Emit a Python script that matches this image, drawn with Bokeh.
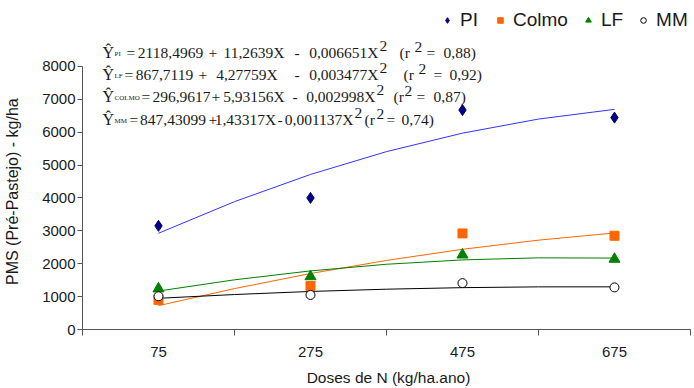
from bokeh.plotting import figure
from bokeh.models import FixedTicker, Range1d, Label, Legend, LegendItem
from bokeh.embed import file_html
from bokeh.resources import INLINE

# ---------------- data ----------------
doses = [75, 275, 475, 675]
y_ticks = [0, 1000, 2000, 3000, 4000, 5000, 6000, 7000, 8000]
dose_bounds = [-25, 175, 375, 575, 775]

pi_obs = [3150, 4000, 6670, 6440]
colmo_obs = [900, 1320, 2920, 2850]
lf_obs = [1240, 1610, 2270, 2140]
mm_obs = [1010, 1050, 1410, 1280]

curve_x = [75, 175, 275, 375, 475, 575, 675]
pi_fit = [2926, 3886, 4713, 5407, 5968, 6396, 6691]
colmo_fit = [725, 1243, 1701, 2100, 2438, 2716, 2935]
lf_fit = [1169, 1510, 1781, 1983, 2115, 2178, 2171]
mm_fit = [948, 1063, 1156, 1225, 1272, 1296, 1297]

series_names = ["PI", "Colmo", "LF", "MM"]

eq_subs = ["PI", "LF", "COLMO", "MM"]
eq_tokens = [
    ["=", "2118,4969", "+", "11,2639X", "-", "0,006651X", "2", "(r", "2", "=", "0,88)"],
    ["=", "867,7119", "+", "4,27759X", "-", "0,003477X", "2", "(r", "2", "=", "0,92)"],
    ["=", "296,9617", "+", "5,93156X", "-", "0,002998X", "2", "(r", "2", "=", "0,87)"],
    ["=", "847,43099", "+", "1,43317X", "-", "0,001137X", "2", "(r", "2", "=", "0,74)"],
]

# ---------------- layout (page px) ----------------
FL, FB = 82, 329          # frame left / bottom in page pixels
eq_base = [52, 74, 96, 119]
eq_token_x = [
    [126, 170, 208, 253.5, 294, 378, 379, 399, 414, 426, 443],
    [124, 164, 198, 246.5, 294, 378, 379, 403, 418, 433, 449],
    [141, 181, 211, 253.5, 292, 375, 376, 393, 404, 416, 433],
    [129, 172.5, 208, 245, 277, 353, 354, 364, 376, 386, 401],
]
SUP = {6: 7, 8: 6}        # token index -> raise in px
ALIGN = {1: "center", 3: "center", 5: "right"}

p = figure(width=694, height=388, output_backend="svg", toolbar_location=None,
           x_range=Range1d(-25, 780.3), y_range=Range1d(0, 10000),
           min_border_left=82, min_border_right=0, min_border_top=0,
           min_border_bottom=59, outline_line_color=None,
           background_fill_color="white", border_fill_color="white")
p.xgrid.visible = False
p.ygrid.visible = False

AX = "#555555"
TXT = "#1a1a1a"
SANS = "Liberation Sans"
SERIF = "Liberation Serif"

xa = p.xaxis[0]
xa.bounds = (dose_bounds[0], dose_bounds[-1])
xa.ticker = FixedTicker(ticks=doses, minor_ticks=dose_bounds)
xa.axis_line_color = AX
xa.major_tick_line_color = None
xa.major_tick_out = 0
xa.major_tick_in = 0
xa.minor_tick_line_color = AX
xa.minor_tick_out = 6
xa.minor_tick_in = 0
xa.major_label_standoff = 11
xa.major_label_text_font = SANS
xa.major_label_text_font_size = "15px"
xa.major_label_text_color = TXT
xa.axis_label = "Doses de N (kg/ha.ano)"
xa.axis_label_text_font = SANS
xa.axis_label_text_font_size = "15.5px"
xa.axis_label_text_font_style = "normal"
xa.axis_label_text_color = TXT
xa.axis_label_standoff = 9

ya = p.yaxis[0]
ya.bounds = (y_ticks[0], y_ticks[-1])
ya.ticker = FixedTicker(ticks=y_ticks, minor_ticks=[])
ya.axis_line_color = AX
ya.major_tick_line_color = AX
ya.major_tick_out = 5
ya.major_tick_in = 0
ya.minor_tick_line_color = None
ya.major_label_standoff = 2
ya.major_label_text_font = SANS
ya.major_label_text_font_size = "15px"
ya.major_label_text_color = TXT
# trailing no-break spaces keep the title centred on the 0-8000 part of the axis
ya.axis_label = "PMS (Pré-Pastejo) - kg/ha" + "\u00a0" * 12
ya.axis_label_text_font = SANS
ya.axis_label_text_font_size = "16px"
ya.axis_label_text_font_style = "normal"
ya.axis_label_text_color = TXT
ya.axis_label_standoff = 18

# fitted curves
p.line(curve_x, pi_fit, line_color="#3333ff", line_width=1)
p.line(curve_x, colmo_fit, line_color="#ff6600", line_width=1)
p.line(curve_x, lf_fit, line_color="#008000", line_width=1)
p.line(curve_x, mm_fit, line_color="#000000", line_width=1)

# observations
r_pi = p.scatter(doses, pi_obs, marker="diamond", size=11, fill_color="#000080",
                 line_color="#000080")
r_co = p.scatter(doses, colmo_obs, marker="square", size=9, fill_color="#ff6600",
                 line_color="#ff6600")
r_lf = p.scatter(doses, lf_obs, marker="triangle", size=11, fill_color="#008000",
                 line_color="#008000")
r_mm = p.scatter(doses, mm_obs, marker="circle", size=9, fill_color="white",
                 line_color="#000000", line_width=1)

legend = Legend(items=[LegendItem(label=n, renderers=[r]) for n, r in
                       zip(series_names, [r_pi, r_co, r_lf, r_mm])],
                orientation="horizontal", location=(440 - FL, FB - 31),
                glyph_width=14, glyph_height=14, label_standoff=6, spacing=13,
                padding=0, margin=0, border_line_color=None,
                background_fill_alpha=0, label_text_font=SANS,
                label_text_font_size="19px", label_text_color=TXT,
                label_height=20)
p.add_layout(legend, "center")


def lab(x, y, text, size, align="left", font=SERIF):
    p.add_layout(Label(x=x - FL, y=FB - y, x_units="screen", y_units="screen",
                       text=text, text_font=font, text_font_size=size,
                       text_color=TXT, text_baseline="alphabetic",
                       text_align=align))


for i in range(4):
    b = eq_base[i]
    lab(102, b, "Ŷ", "16px")
    lab(114, b + 1, eq_subs[i], "7px")
    for j, (tok, tx) in enumerate(zip(eq_tokens[i], eq_token_x[i])):
        lab(tx, b - SUP.get(j, 0), tok, "15.5px", align=ALIGN.get(j, "left"))

open("out.html", "w").write(file_html(p, INLINE))
